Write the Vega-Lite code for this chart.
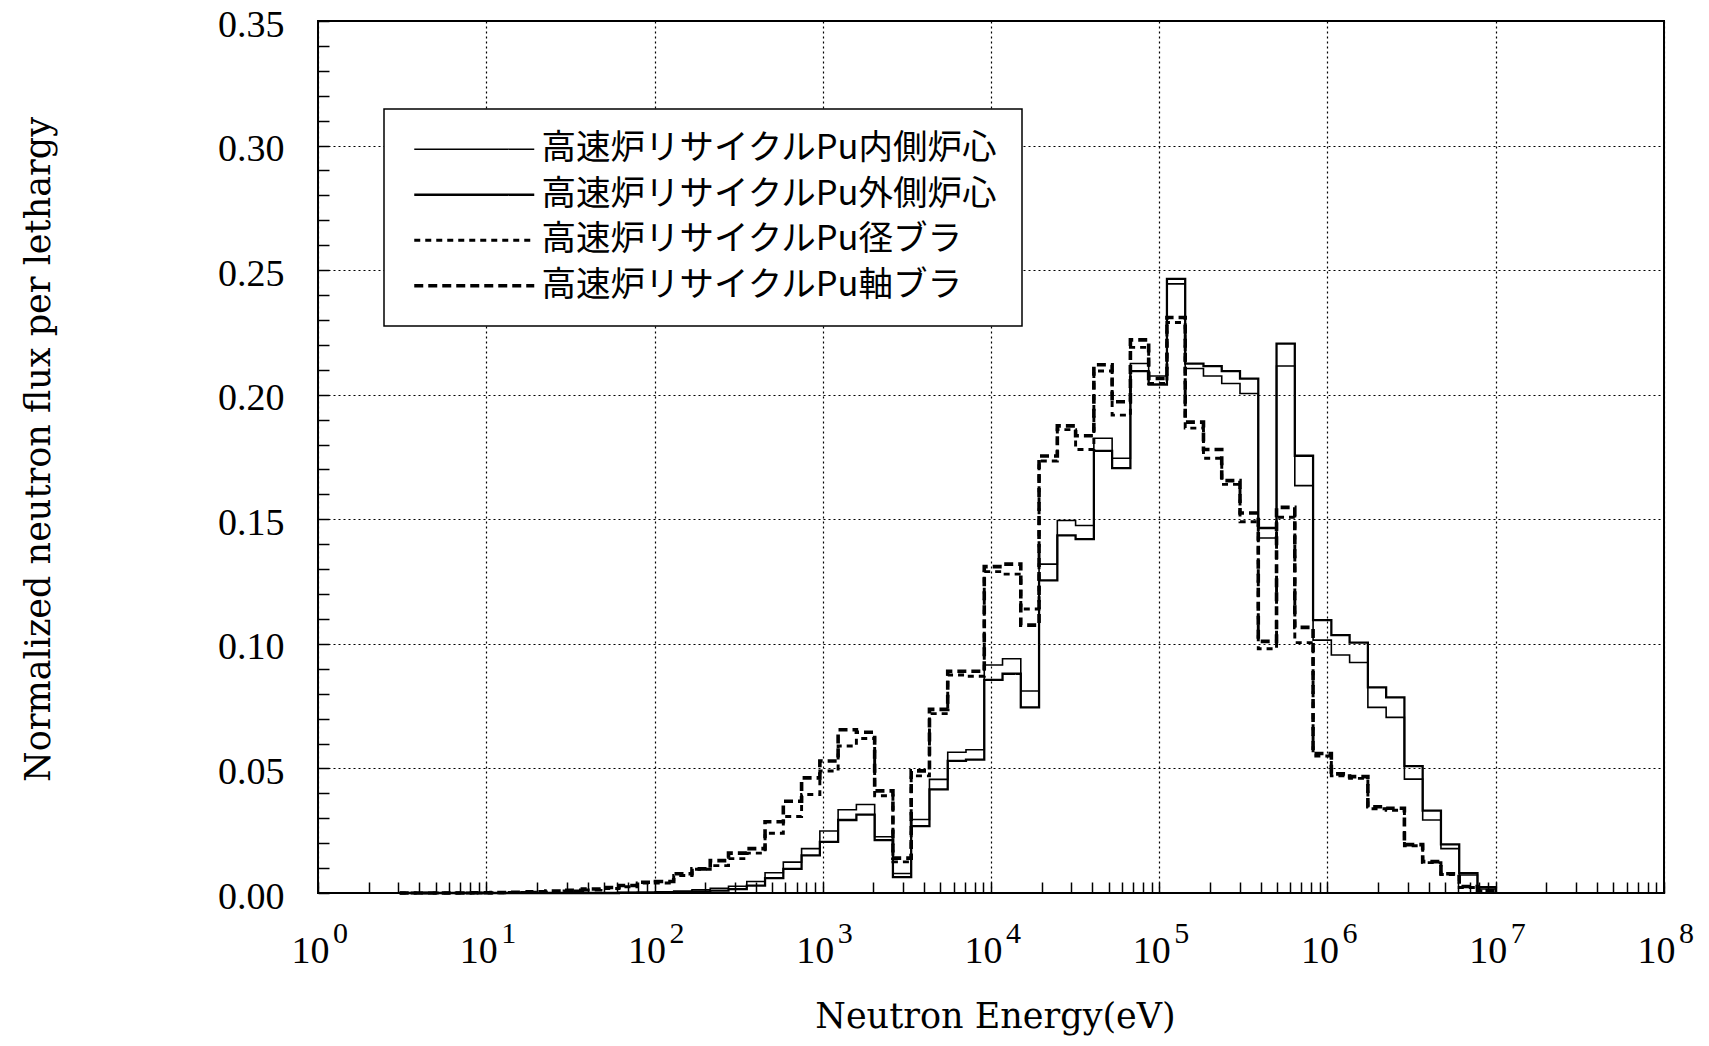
{
"$schema":"https://vega.github.io/schema/vega-lite/v6.json",
"width":1346,"height":872,
"autosize":{"type":"none"},
"padding":{"left":318,"top":21,"right":45,"bottom":153},
"data":{"values":[
{"s":"r","e":3.059,"f":0},{"s":"r","e":3.9279,"f":0},{"s":"r","e":5.0435,"f":0},{"s":"r","e":6.476,"f":0},{"s":"r","e":8.3153,"f":0},{"s":"r","e":10.677,"f":0.0001},{"s":"r","e":13.71,"f":0.0002},{"s":"r","e":17.604,"f":0.0003},{"s":"r","e":22.603,"f":0.0005},{"s":"r","e":29.023,"f":0.0008},{"s":"r","e":37.267,"f":0.0012},{"s":"r","e":47.851,"f":0.0018},{"s":"r","e":61.442,"f":0.0025},{"s":"r","e":78.893,"f":0.004},{"s":"r","e":101.3,"f":0.004},{"s":"r","e":130.07,"f":0.007},{"s":"r","e":167.02,"f":0.0095},{"s":"r","e":214.45,"f":0.011},{"s":"r","e":275.36,"f":0.0138},{"s":"r","e":353.57,"f":0.016},{"s":"r","e":454,"f":0.024},{"s":"r","e":582.95,"f":0.0307},{"s":"r","e":748.52,"f":0.0395},{"s":"r","e":961.12,"f":0.049},{"s":"r","e":1234.1,"f":0.059},{"s":"r","e":1584.6,"f":0.062},{"s":"r","e":2034.7,"f":0.039},{"s":"r","e":2612.6,"f":0.0125},{"s":"r","e":3354.6,"f":0.047},{"s":"r","e":4307.4,"f":0.072},{"s":"r","e":5530.8,"f":0.0875},{"s":"r","e":7101.7,"f":0.087},{"s":"r","e":9118.8,"f":0.129},{"s":"r","e":11709,"f":0.128},{"s":"r","e":15034,"f":0.114},{"s":"r","e":19305,"f":0.1734},{"s":"r","e":24788,"f":0.186},{"s":"r","e":31828,"f":0.178},{"s":"r","e":40868,"f":0.2095},{"s":"r","e":52475,"f":0.1918},{"s":"r","e":67379,"f":0.219},{"s":"r","e":86517,"f":0.2045},{"s":"r","e":111090,"f":0.229},{"s":"r","e":142642,"f":0.1866},{"s":"r","e":183156,"f":0.1745},{"s":"r","e":235177,"f":0.164},{"s":"r","e":301974,"f":0.149},{"s":"r","e":387742,"f":0.098},{"s":"r","e":497871,"f":0.1508},{"s":"r","e":639279,"f":0.1005},{"s":"r","e":820850,"f":0.055},{"s":"r","e":1053992,"f":0.047},{"s":"r","e":1353353,"f":0.046},{"s":"r","e":1737739,"f":0.0338},{"s":"r","e":2231302,"f":0.0332},{"s":"r","e":2865048,"f":0.019},{"s":"r","e":3678794,"f":0.0122},{"s":"r","e":4723666,"f":0.0074},{"s":"r","e":6065307,"f":0.0022},{"s":"r","e":7788008,"f":0.0008},{"s":"r","e":10000000,"f":0},
{"s":"a","e":3.059,"f":0},{"s":"a","e":3.9279,"f":0},{"s":"a","e":5.0435,"f":0},{"s":"a","e":6.476,"f":0},{"s":"a","e":8.3153,"f":0.0001},{"s":"a","e":10.677,"f":0.0002},{"s":"a","e":13.71,"f":0.0003},{"s":"a","e":17.604,"f":0.0005},{"s":"a","e":22.603,"f":0.0008},{"s":"a","e":29.023,"f":0.0011},{"s":"a","e":37.267,"f":0.0016},{"s":"a","e":47.851,"f":0.0022},{"s":"a","e":61.442,"f":0.003},{"s":"a","e":78.893,"f":0.0043},{"s":"a","e":101.3,"f":0.0046},{"s":"a","e":130.07,"f":0.0077},{"s":"a","e":167.02,"f":0.0097},{"s":"a","e":214.45,"f":0.013},{"s":"a","e":275.36,"f":0.016},{"s":"a","e":353.57,"f":0.0178},{"s":"a","e":454,"f":0.0286},{"s":"a","e":582.95,"f":0.0368},{"s":"a","e":748.52,"f":0.0462},{"s":"a","e":961.12,"f":0.053},{"s":"a","e":1234.1,"f":0.0655},{"s":"a","e":1584.6,"f":0.0645},{"s":"a","e":2034.7,"f":0.041},{"s":"a","e":2612.6,"f":0.014},{"s":"a","e":3354.6,"f":0.049},{"s":"a","e":4307.4,"f":0.0737},{"s":"a","e":5530.8,"f":0.089},{"s":"a","e":7101.7,"f":0.089},{"s":"a","e":9118.8,"f":0.131},{"s":"a","e":11709,"f":0.132},{"s":"a","e":15034,"f":0.1075},{"s":"a","e":19305,"f":0.1754},{"s":"a","e":24788,"f":0.1875},{"s":"a","e":31828,"f":0.1835},{"s":"a","e":40868,"f":0.212},{"s":"a","e":52475,"f":0.1972},{"s":"a","e":67379,"f":0.222},{"s":"a","e":86517,"f":0.2065},{"s":"a","e":111090,"f":0.231},{"s":"a","e":142642,"f":0.189},{"s":"a","e":183156,"f":0.178},{"s":"a","e":235177,"f":0.1655},{"s":"a","e":301974,"f":0.1525},{"s":"a","e":387742,"f":0.101},{"s":"a","e":497871,"f":0.1548},{"s":"a","e":639279,"f":0.1066},{"s":"a","e":820850,"f":0.056},{"s":"a","e":1053992,"f":0.0478},{"s":"a","e":1353353,"f":0.0467},{"s":"a","e":1737739,"f":0.0346},{"s":"a","e":2231302,"f":0.034},{"s":"a","e":2865048,"f":0.0194},{"s":"a","e":3678794,"f":0.0126},{"s":"a","e":4723666,"f":0.0077},{"s":"a","e":6065307,"f":0.0026},{"s":"a","e":7788008,"f":0.001},{"s":"a","e":10000000,"f":0},
{"s":"i","e":3.059,"f":0},{"s":"i","e":3.9279,"f":0},{"s":"i","e":5.0435,"f":0},{"s":"i","e":6.476,"f":0},{"s":"i","e":8.3153,"f":0},{"s":"i","e":10.677,"f":0},{"s":"i","e":13.71,"f":0},{"s":"i","e":17.604,"f":0},{"s":"i","e":22.603,"f":0},{"s":"i","e":29.023,"f":0},{"s":"i","e":37.267,"f":0.0001},{"s":"i","e":47.851,"f":0.0001},{"s":"i","e":61.442,"f":0.0002},{"s":"i","e":78.893,"f":0.0003},{"s":"i","e":101.3,"f":0.0005},{"s":"i","e":130.07,"f":0.0008},{"s":"i","e":167.02,"f":0.0013},{"s":"i","e":214.45,"f":0.0019},{"s":"i","e":275.36,"f":0.0027},{"s":"i","e":353.57,"f":0.0046},{"s":"i","e":454,"f":0.0081},{"s":"i","e":582.95,"f":0.0124},{"s":"i","e":748.52,"f":0.0178},{"s":"i","e":961.12,"f":0.0249},{"s":"i","e":1234.1,"f":0.0334},{"s":"i","e":1584.6,"f":0.0355},{"s":"i","e":2034.7,"f":0.0226},{"s":"i","e":2612.6,"f":0.0078},{"s":"i","e":3354.6,"f":0.0295},{"s":"i","e":4307.4,"f":0.0456},{"s":"i","e":5530.8,"f":0.0565},{"s":"i","e":7101.7,"f":0.0575},{"s":"i","e":9118.8,"f":0.0915},{"s":"i","e":11709,"f":0.094},{"s":"i","e":15034,"f":0.0811},{"s":"i","e":19305,"f":0.132},{"s":"i","e":24788,"f":0.1495},{"s":"i","e":31828,"f":0.1475},{"s":"i","e":40868,"f":0.1825},{"s":"i","e":52475,"f":0.1745},{"s":"i","e":67379,"f":0.2125},{"s":"i","e":86517,"f":0.2075},{"s":"i","e":111090,"f":0.2445},{"s":"i","e":142642,"f":0.2105},{"s":"i","e":183156,"f":0.2075},{"s":"i","e":235177,"f":0.2045},{"s":"i","e":301974,"f":0.2005},{"s":"i","e":387742,"f":0.1425},{"s":"i","e":497871,"f":0.2115},{"s":"i","e":639279,"f":0.1635},{"s":"i","e":820850,"f":0.1015},{"s":"i","e":1053992,"f":0.0955},{"s":"i","e":1353353,"f":0.0925},{"s":"i","e":1737739,"f":0.0745},{"s":"i","e":2231302,"f":0.0705},{"s":"i","e":2865048,"f":0.0457},{"s":"i","e":3678794,"f":0.0293},{"s":"i","e":4723666,"f":0.0178},{"s":"i","e":6065307,"f":0.0072},{"s":"i","e":7788008,"f":0.0016},{"s":"i","e":10000000,"f":0},
{"s":"o","e":3.059,"f":0},{"s":"o","e":3.9279,"f":0},{"s":"o","e":5.0435,"f":0},{"s":"o","e":6.476,"f":0},{"s":"o","e":8.3153,"f":0},{"s":"o","e":10.677,"f":0},{"s":"o","e":13.71,"f":0},{"s":"o","e":17.604,"f":0},{"s":"o","e":22.603,"f":0},{"s":"o","e":29.023,"f":0},{"s":"o","e":37.267,"f":0},{"s":"o","e":47.851,"f":0},{"s":"o","e":61.442,"f":0.0001},{"s":"o","e":78.893,"f":0.0001},{"s":"o","e":101.3,"f":0.0002},{"s":"o","e":130.07,"f":0.0003},{"s":"o","e":167.02,"f":0.0006},{"s":"o","e":214.45,"f":0.001},{"s":"o","e":275.36,"f":0.0016},{"s":"o","e":353.57,"f":0.003},{"s":"o","e":454,"f":0.006},{"s":"o","e":582.95,"f":0.0097},{"s":"o","e":748.52,"f":0.0151},{"s":"o","e":961.12,"f":0.0205},{"s":"o","e":1234.1,"f":0.0293},{"s":"o","e":1584.6,"f":0.0315},{"s":"o","e":2034.7,"f":0.0212},{"s":"o","e":2612.6,"f":0.0064},{"s":"o","e":3354.6,"f":0.0268},{"s":"o","e":4307.4,"f":0.0416},{"s":"o","e":5530.8,"f":0.053},{"s":"o","e":7101.7,"f":0.0535},{"s":"o","e":9118.8,"f":0.0855},{"s":"o","e":11709,"f":0.088},{"s":"o","e":15034,"f":0.0745},{"s":"o","e":19305,"f":0.1255},{"s":"o","e":24788,"f":0.1435},{"s":"o","e":31828,"f":0.142},{"s":"o","e":40868,"f":0.1775},{"s":"o","e":52475,"f":0.1705},{"s":"o","e":67379,"f":0.2095},{"s":"o","e":86517,"f":0.2041},{"s":"o","e":111090,"f":0.2465},{"s":"o","e":142642,"f":0.2125},{"s":"o","e":183156,"f":0.2115},{"s":"o","e":235177,"f":0.2095},{"s":"o","e":301974,"f":0.2065},{"s":"o","e":387742,"f":0.1465},{"s":"o","e":497871,"f":0.2205},{"s":"o","e":639279,"f":0.1755},{"s":"o","e":820850,"f":0.1095},{"s":"o","e":1053992,"f":0.1035},{"s":"o","e":1353353,"f":0.1005},{"s":"o","e":1737739,"f":0.0825},{"s":"o","e":2231302,"f":0.0785},{"s":"o","e":2865048,"f":0.0509},{"s":"o","e":3678794,"f":0.0331},{"s":"o","e":4723666,"f":0.0195},{"s":"o","e":6065307,"f":0.008},{"s":"o","e":7788008,"f":0.0024},{"s":"o","e":10000000,"f":0}
]},
"layer":[
{"mark":{"type":"line","interpolate":"step-after","color":"black","strokeCap":"butt","strokeJoin":"miter"},
 "encoding":{
  "x":{"field":"e","type":"quantitative",
   "scale":{"type":"log","domain":[1,100000000],"nice":false},
   "axis":{"orient":"bottom","title":"Neutron Energy(eV)",
    "values":[1,2,3,4,5,6,7,8,9,10,20,30,40,50,60,70,80,90,100,200,300,400,500,600,700,800,900,1000,2000,3000,4000,5000,6000,7000,8000,9000,10000,20000,30000,40000,50000,60000,70000,80000,90000,100000,200000,300000,400000,500000,600000,700000,800000,900000,1000000,2000000,3000000,4000000,5000000,6000000,7000000,8000000,9000000,10000000,20000000,30000000,40000000,50000000,60000000,70000000,80000000,90000000,100000000],
    "labelExpr":"abs(log(datum.value)/LN10 - round(log(datum.value)/LN10)) < 0.001 ? '10' : ''",
    "grid":true,
    "gridOpacity":{"condition":{"test":"abs(log(datum.value)/LN10 - round(log(datum.value)/LN10)) < 0.001","value":1},"value":0},
    "gridColor":"black","gridDash":[2,3],"gridWidth":1.2,
    "domain":false,"ticks":true,"tickSize":-11,"tickColor":"black","tickWidth":1.5,
    "labelFont":"Liberation Serif","labelFontSize":38,"labelColor":"black",
    "labelBaseline":"alphabetic","labelPadding":80,"labelOffset":-8,
    "labelOverlap":false,"labelFlush":false,"labelBound":false,
    "titleFont":"DejaVu Serif","titleFontSize":35,"titleFontWeight":"normal","titleColor":"black",
    "titleX":677,"titleY":134,"titleBaseline":"alphabetic","titleAlign":"center"}},
  "y":{"field":"f","type":"quantitative",
   "scale":{"domain":[0,0.35],"nice":false},
   "axis":{"title":"Normalized neutron flux per lethargy",
    "values":[0,0.01,0.02,0.03,0.04,0.05,0.06,0.07,0.08,0.09,0.1,0.11,0.12,0.13,0.14,0.15,0.16,0.17,0.18,0.19,0.2,0.21,0.22,0.23,0.24,0.25,0.26,0.27,0.28,0.29,0.3,0.31,0.32,0.33,0.34,0.35],
    "labelExpr":"abs(datum.value*20 - round(datum.value*20)) < 0.001 ? format(datum.value, '.2f') : ''",
    "grid":true,
    "gridOpacity":{"condition":{"test":"abs(datum.value*20 - round(datum.value*20)) < 0.001","value":1},"value":0},
    "gridColor":"black","gridDash":[2,3],"gridWidth":1.2,
    "domain":false,"ticks":true,"tickSize":-11,"tickColor":"black","tickWidth":1.5,
    "labelFont":"Liberation Serif","labelFontSize":38,"labelColor":"black",
    "labelBaseline":"alphabetic","labelPadding":45,"labelOffset":15,
    "labelOverlap":false,"labelFlush":false,"labelBound":false,
    "titleFont":"DejaVu Serif","titleFontSize":35,"titleFontWeight":"normal","titleColor":"black",
    "titleX":-269,"titleY":428,"titleAngle":270,"titleBaseline":"alphabetic","titleAlign":"center"}},
  "strokeDash":{"field":"s","type":"nominal",
   "scale":{"domain":["i","o","r","a"],"range":[[1,0],[1,0],[6,5],[9,5]]},
   "legend":{"title":null,"orient":"none","legendX":66,"legendY":88,
    "labelExpr":"datum.label == 'i' ? '高速炉リサイクルPu内側炉心' : datum.label == 'o' ? '高速炉リサイクルPu外側炉心' : datum.label == 'r' ? '高速炉リサイクルPu径ブラ' : '高速炉リサイクルPu軸ブラ'",
    "encode":{"symbols":{"update":{"strokeWidth":{"signal":"datum.value == 'o' ? 3.6 : datum.value == 'a' ? 3 : 1.6"}}}}}},
  "strokeWidth":{"field":"s","type":"nominal",
   "scale":{"domain":["i","o","r","a"],"range":[1.6,3.6,1.6,3]},
   "legend":null}
 }},
{"mark":{"type":"point","opacity":0},
 "encoding":{
  "x":{"field":"e","type":"quantitative",
   "axis":{"orient":"bottom","title":null,
    "values":[1,10,100,1000,10000,100000,1000000,10000000,100000000],
    "labelExpr":"format(round(log(datum.value)/LN10), 'd')",
    "grid":false,"domain":false,"ticks":false,"tickSize":0,
    "labelFont":"Liberation Serif","labelFontSize":30,"labelColor":"black",
    "labelBaseline":"alphabetic","labelPadding":49,"labelOffset":22,
    "labelOverlap":false,"labelFlush":false,"labelBound":false}}
 }}
],
"resolve":{"axis":{"x":"independent"}},
"config":{
 "font":"DejaVu Serif",
 "view":{"stroke":"black","strokeWidth":2},
 "legend":{"strokeColor":"black","strokeWidth":1.5,"fillColor":"white","padding":23,"rowPadding":10.5,
  "labelFont":"Noto Sans CJK JP","labelFontSize":34.5,"labelColor":"black","labelLimit":1000,
  "symbolType":"M-6,0H6","symbolSize":400,"symbolOffset":50,"labelOffset":50,
  "symbolStrokeColor":"black","symbolFillColor":"transparent"}
}
}
